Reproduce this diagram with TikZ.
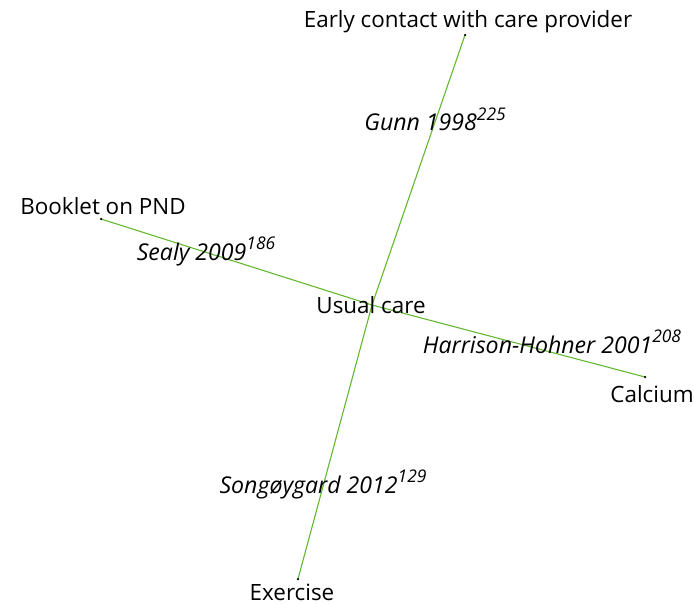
\documentclass[tikz,border=0pt]{standalone}
\usepackage{fontspec}
\setmainfont{Open Sans}
\definecolor{linkgreen}{RGB}{100,184,48}
\newcommand{\supnum}[1]{\raisebox{0.45em}{\fontsize{17.5}{19}\selectfont #1}}
\tikzset{
  lbl/.style={inner sep=0pt, anchor=base, font=\fontsize{22.5}{26}\selectfont},
  study/.style={inner sep=0pt, anchor=base, font=\fontsize{23.2}{26}\selectfont\itshape},
  link/.style={draw=linkgreen, line width=1.1bp},
  enddot/.style={fill=black, circle, inner sep=0pt, minimum size=2.5bp}
}
\begin{document}
\begin{tikzpicture}[x=1bp,y=-1bp]
\useasboundingbox (0,0) rectangle (694,604);
\coordinate (c) at (372,305);
\coordinate (t) at (465,35);
\coordinate (l) at (101,219);
\coordinate (r) at (645,377);
\coordinate (b) at (298,579);
\draw[link] (t) -- (c) -- (b);
\draw[link] (l) -- (c) -- (r);
\node[enddot] (td) at (t) {};
\node[enddot] (ld) at (l) {};
\node[enddot] (rd) at (r) {};
\node[enddot] (bd) at (b) {};
\node[lbl] (top) at (468,28) {Early contact with care provider};
\node[lbl] (left) at (103,214) {Booklet on PND};
\node[lbl] (right) at (652,402) {Calcium};
\node[lbl] (bottom) at (292,600) {Exercise};
\node[lbl] (center) at (371,313) {Usual care};
\node[study] (s1) at (435,131) {Gunn 1998\supnum{225}};
\node[study] (s2) at (206,260) {Sealy 2009\supnum{186}};
\node[study] (s3) at (552,353) {Harrison-Hohner 2001\supnum{208}};
\node[study] (s4) at (323,493) {Songøygard 2012\supnum{129}};
\end{tikzpicture}
\end{document}
